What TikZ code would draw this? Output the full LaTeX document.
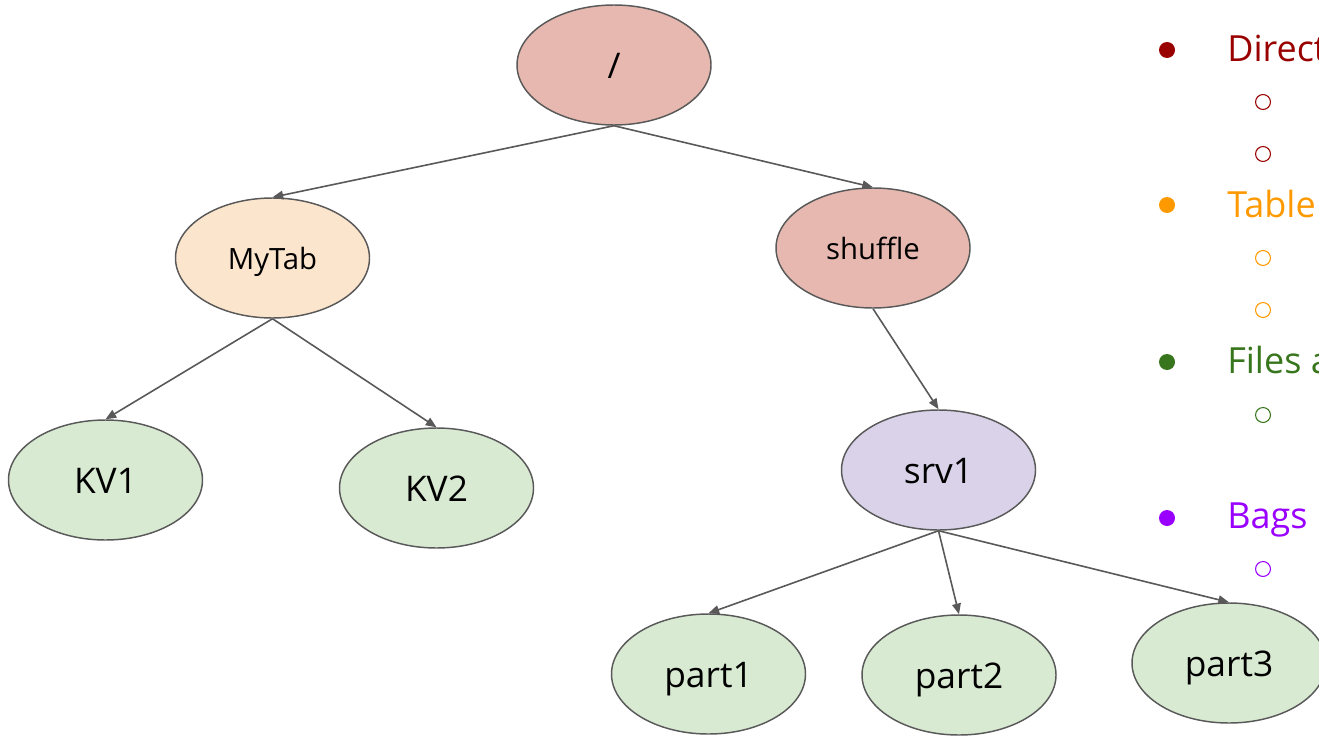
\documentclass[tikz,border=0pt]{standalone}
\usepackage{fontspec}
\setmainfont{Open Sans}
\usetikzlibrary{shapes.geometric,arrows.meta}
\definecolor{edgegray}{HTML}{595959}
\definecolor{rootfill}{HTML}{E6B8AF}
\definecolor{tabfill}{HTML}{FCE5CD}
\definecolor{leaffill}{HTML}{D9EAD3}
\definecolor{srvfill}{HTML}{D9D2E9}
\definecolor{cdir}{HTML}{990000}
\definecolor{ctab}{HTML}{FF9900}
\definecolor{cfile}{HTML}{38761D}
\definecolor{cbag}{HTML}{9900FF}
\tikzset{
  treenode/.style={ellipse, draw=edgegray, line width=1.1pt, minimum width=145.5pt, minimum height=90pt, inner sep=0pt, text height=20.25pt, text depth=0pt, font=\fontsize{26.5}{31}\selectfont},
  smallnode/.style={treenode, text height=17pt, font=\fontsize{22}{26}\selectfont},
  link/.style={draw=edgegray, line width=1.2pt, -{Triangle[length=8pt,width=6.5pt]}},
  listtext/.style={anchor=base west, inner sep=0pt, font=\fontsize{27}{32}\selectfont},
  hollow/.style={line width=0.8pt}
}
\begin{document}
\begin{tikzpicture}[x=0.75pt,y=-0.75pt]
\useasboundingbox (0,0) rectangle (1319,735);
\begin{scope}
\clip (0,0) rectangle (1319,735);
\node[treenode, fill=rootfill] (root) at (614,65) {/};
\node[smallnode, fill=tabfill] (mytab) at (272.5,258) {MyTab};
\node[smallnode, fill=rootfill] (shuffle) at (873,248) {shuffle};
\node[treenode, fill=leaffill] (kv1) at (105.5,480) {KV1};
\node[treenode, fill=leaffill] (kv2) at (436.5,488) {KV2};
\node[treenode, fill=srvfill] (srv1) at (938.5,470) {srv1};
\node[treenode, fill=leaffill] (part1) at (708.5,674) {part1};
\node[treenode, fill=leaffill] (part2) at (959,675) {part2};
\node[treenode, fill=leaffill] (part3) at (1229,663) {part3};

\draw[link] (root.south) -- (mytab.north);
\draw[link] (root.south) -- (shuffle.north);
\draw[link] (mytab.south) -- (kv1.north);
\draw[link] (mytab.south) -- (kv2.north);
\draw[link] (shuffle.south) -- (srv1.north);
\draw[link] (srv1.south) -- (part1.north);
\draw[link] (srv1.south) -- (part2.north);
\draw[link] (srv1.south) -- (part3.north);

% list
\fill[cdir] (1167,50) circle (6pt);
\node[listtext, text=cdir] (tdir) at (1227,61) {Direct};
\draw[cdir, hollow] (1263,102) circle (5.6pt);
\draw[cdir, hollow] (1263,154) circle (5.6pt);
\fill[ctab] (1167,205) circle (6pt);
\node[listtext, text=ctab] (ttab) at (1227,217) {Table};
\draw[ctab, hollow] (1263,258) circle (5.6pt);
\draw[ctab, hollow] (1263,310) circle (5.6pt);
\fill[cfile] (1167,362) circle (6pt);
\node[listtext, text=cfile] (tfile) at (1227,373) {Files a};
\draw[cfile, hollow] (1263,415) circle (5.6pt);
\fill[cbag] (1167,518) circle (6pt);
\node[listtext, text=cbag] (tbag) at (1227,528) {Bags};
\draw[cbag, hollow] (1263,569) circle (5.6pt);
\end{scope}
\end{tikzpicture}
\end{document}
